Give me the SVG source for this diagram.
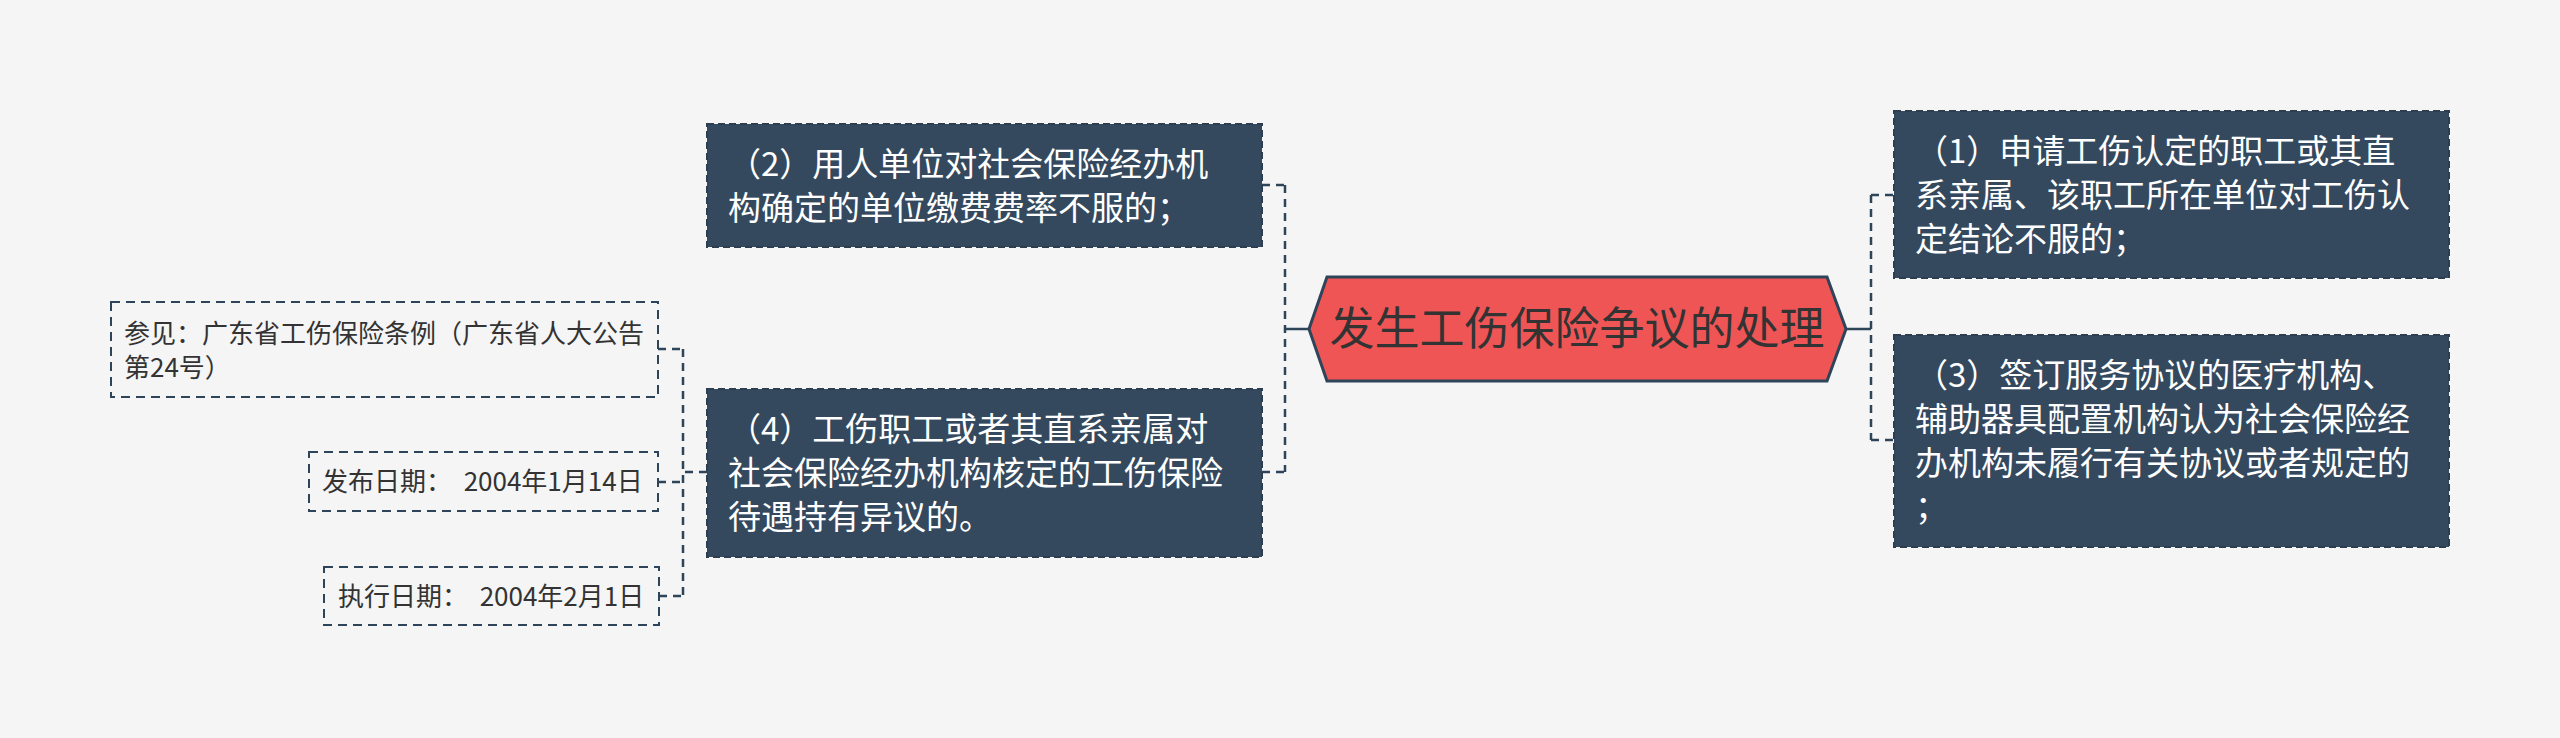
<svg xmlns="http://www.w3.org/2000/svg" width="2560" height="738" viewBox="0 0 2560 738">
<style>
.bg{fill:#f5f5f5}
.main rect{fill:#34495e;stroke:#2c3e50;stroke-width:2;stroke-dasharray:7 4}
.main text{fill:#ffffff;font-family:"Noto Sans CJK SC","Microsoft YaHei",sans-serif;font-size:33px}
.sub rect{fill:none;stroke:#2e4459;stroke-width:2;stroke-dasharray:9 6}
.sub text{fill:#333333;font-family:"Noto Sans CJK SC",sans-serif;font-size:26px}
.root polygon{fill:#f05556;stroke:#2e4459;stroke-width:3}
.root text{fill:#333333;font-family:"Noto Sans CJK SC",sans-serif;font-size:45px}
.conn path{fill:none;stroke:#2e4459;stroke-width:2.5}
.conn .d{stroke-dasharray:8 6}
</style>
<rect class="bg" x="0" y="0" width="2560" height="738"/>
<g id="connectors" class="conn">
<path d="M1309 329 H1285"/>
<path class="d" d="M1285 185 V472"/>
<path class="d" d="M1262 185 H1285"/>
<path class="d" d="M1262 472 H1285"/>
<path d="M1846 329 H1871"/>
<path class="d" d="M1871 195 V440"/>
<path class="d" d="M1871 195 H1894"/>
<path class="d" d="M1871 440 H1894"/>
<path class="d" d="M707 472 H683"/>
<path class="d" d="M683 349 V596"/>
<path class="d" d="M658 349 H683"/>
<path class="d" d="M658 482 H683"/>
<path class="d" d="M659 596 H683"/>
</g>
<g id="root" class="root">
<polygon points="1309,329 1327,277 1827,277 1846,329 1827,381 1327,381"/>
<text x="1577" y="345" text-anchor="middle">发生工伤保险争议的处理</text>
</g>
<g id="node2" class="main">
<rect x="707" y="124" width="555" height="123"/>
<text x="728" y="176">（2）用人单位对社会保险经办机</text>
<text x="728" y="220">构确定的单位缴费费率不服的；</text>
</g>
<g id="node4" class="main">
<rect x="707" y="389" width="555" height="168"/>
<text x="728" y="441">（4）工伤职工或者其直系亲属对</text>
<text x="728" y="485">社会保险经办机构核定的工伤保险</text>
<text x="728" y="529">待遇持有异议的。</text>
</g>
<g id="node1" class="main">
<rect x="1894" y="111" width="555" height="167"/>
<text x="1915" y="163">（1）申请工伤认定的职工或其直</text>
<text x="1915" y="207">系亲属、该职工所在单位对工伤认</text>
<text x="1915" y="251">定结论不服的；</text>
</g>
<g id="node3" class="main">
<rect x="1894" y="335" width="555" height="212"/>
<text x="1915" y="387">（3）签订服务协议的医疗机构、</text>
<text x="1915" y="431">辅助器具配置机构认为社会保险经</text>
<text x="1915" y="475">办机构未履行有关协议或者规定的</text>
<text x="1915" y="519">；</text>
</g>
<g id="sub-ref" class="sub">
<rect x="111" y="302" width="547" height="95"/>
<text x="124" y="343">参见：广东省工伤保险条例（广东省人大公告</text>
<text x="124" y="377">第24号）</text>
</g>
<g id="sub-pub" class="sub">
<rect x="309" y="452" width="349" height="59"/>
<text x="322" y="491" xml:space="preserve">发布日期：  2004年1月14日</text>
</g>
<g id="sub-exec" class="sub">
<rect x="324" y="567" width="335" height="58"/>
<text x="338" y="606" xml:space="preserve">执行日期：  2004年2月1日</text>
</g>
</svg>
